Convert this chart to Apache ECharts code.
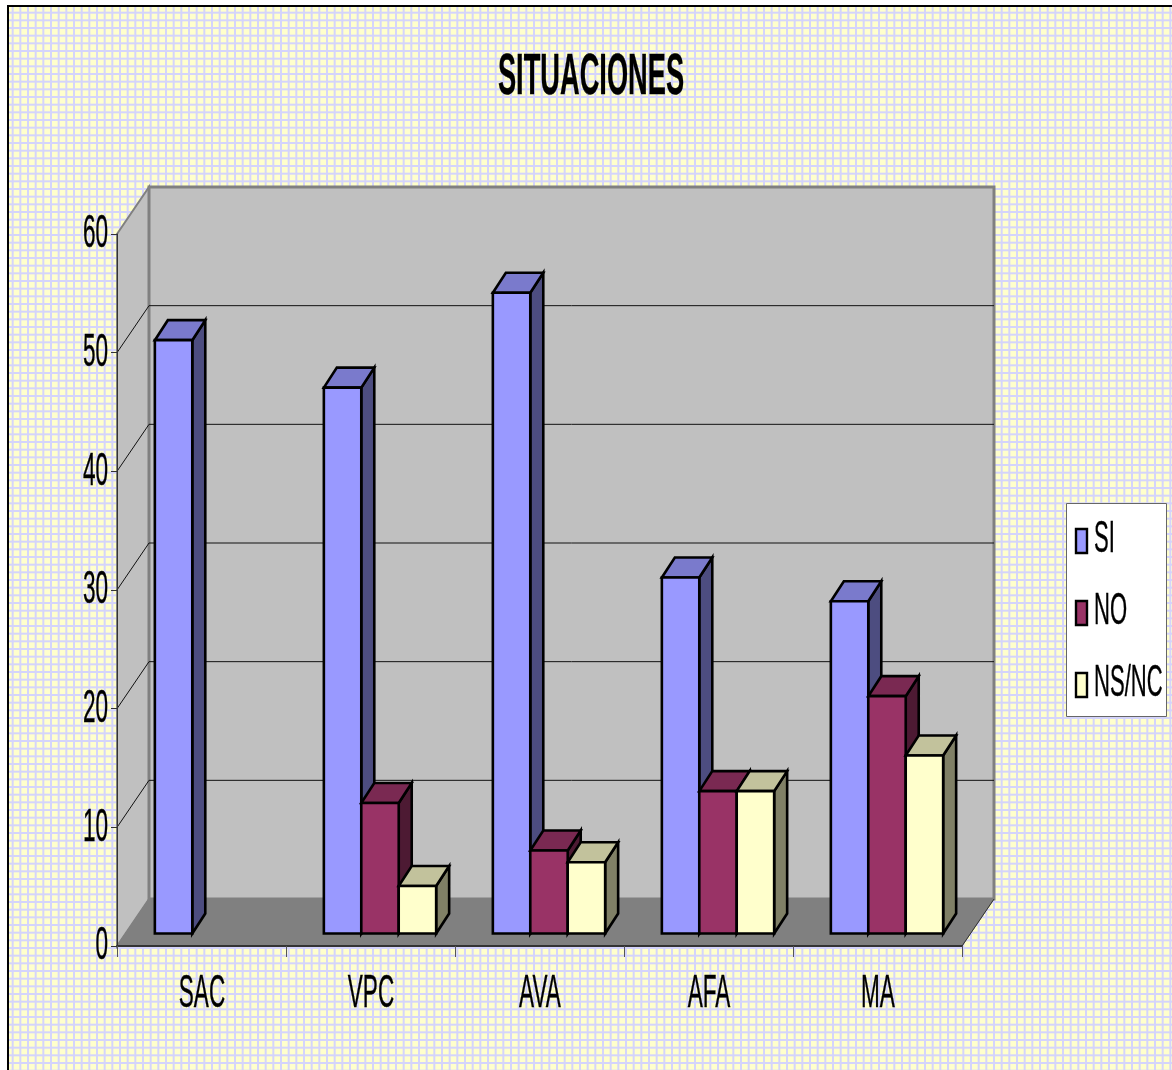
<!DOCTYPE html>
<html>
<head>
<meta charset="utf-8">
<title>SITUACIONES</title>
<style>
html, body { margin: 0; padding: 0; background: #fff; }
#chart { width: 1172px; height: 1070px; }
</style>
<script src="https://cdn.jsdelivr.net/npm/echarts@6/dist/echarts.min.js"></script>
</head>
<body>
<div id="chart"></div>
<script>
var titleText = 'SITUACIONES';
var categories = ['SAC', 'VPC', 'AVA', 'AFA', 'MA'];
var siValues = [50, 46, 54, 30, 28];
var noValues = [0, 11, 7, 12, 20];
var nsValues = [0, 4, 6, 12, 15];
var valueTicks = [0, 10, 20, 30, 40, 50, 60];
var wallLines = [10, 20, 30, 40, 50];
var seriesNames = ['SI', 'NO', 'NS/NC'];

// front, top, side colours of each bar series
var barColors = [
    ['#9999ff', '#7a7acc', '#4d4d80'],
    ['#993366', '#7a2952', '#4d1a33'],
    ['#ffffcc', '#c2c29c', '#808066']
];

var fontName = '"Liberation Sans", Arial, sans-serif';
var depthX = 32, depthY = 47;   // 3d box depth
var barDepthX = 13, barDepthY = 20;
var barShiftX = 9.5, barShiftY = 12.5;

// squared paper background
function makeTile() {
    var c = document.createElement('canvas');
    c.width = 23;
    c.height = 23;
    var ctx = c.getContext('2d');
    ctx.fillStyle = '#ffffcc';
    ctx.fillRect(0, 0, 23, 23);
    ctx.fillStyle = '#d4d4fb';
    for (var i = 0; i < 3; i++) {
        var p = 5 + i * 23 / 3;
        ctx.fillRect(p - 1, 0, 2, 23);
        ctx.fillRect(0, p - 1, 23, 2);
    }
    return c;
}

function narrowText(text, x, y, size, align, weight, scaleX) {
    return {
        type: 'text',
        x: x,
        y: y,
        scaleX: scaleX || 0.49,
        style: {
            text: text,
            fontFamily: fontName,
            fontSize: size,
            fontWeight: weight || 'normal',
            fill: '#000',
            stroke: '#000',
            lineWidth: 0.4,
            align: align,
            verticalAlign: 'middle'
        }
    };
}

function renderWalls(params, api) {
    var s = params.coordSys;
    var x0 = s.x, y0 = s.y, w = s.width, h = s.height;
    var wallStyle = { fill: '#c0c0c0', stroke: '#808080', lineWidth: 2 };
    return {
        type: 'group',
        children: [
            { type: 'polygon', shape: { points: [[x0, y0], [x0 + depthX, y0 - depthY], [x0 + depthX, y0 + h - depthY], [x0, y0 + h]] }, style: wallStyle },
            { type: 'polygon', shape: { points: [[x0 + depthX, y0 - depthY], [x0 + depthX + w, y0 - depthY], [x0 + depthX + w, y0 + h - depthY], [x0 + depthX, y0 + h - depthY]] }, style: { fill: '#c0c0c0', stroke: '#808080', lineWidth: 3 } },
            { type: 'polygon', shape: { points: [[x0, y0 + h], [x0 + depthX, y0 + h - depthY], [x0 + depthX + w, y0 + h - depthY], [x0 + w, y0 + h]] }, style: { fill: '#808080', stroke: '#808080', lineWidth: 1 } },
            { type: 'line', shape: { x1: x0 + w, y1: y0 + h, x2: x0 + w + depthX, y2: y0 + h - depthY }, style: { stroke: '#333', lineWidth: 1 } }
        ]
    };
}

function renderWallLine(params, api) {
    var s = params.coordSys;
    var y = api.coord([0, api.value(1)])[1];
    return {
        type: 'polyline',
        shape: { points: [[s.x, y], [s.x + depthX, y - depthY], [s.x + depthX + s.width, y - depthY]] },
        style: { fill: 'none', stroke: '#111', lineWidth: 1 }
    };
}

function barRenderer(index) {
    return function (params, api) {
        var v = api.value(1);
        if (!v) return;
        var base = api.coord([api.value(0), 0]);
        var top = api.coord([api.value(0), v]);
        var band = api.size([1, 0])[0];
        var bw = band * 0.2215;
        var x1 = base[0] - 1.5 * bw + barShiftX + index * bw;
        var x2 = x1 + bw;
        var y1 = top[1] - barShiftY;
        var y2 = base[1] - barShiftY;
        var c = barColors[index];
        var edge = { stroke: '#000', lineWidth: 2.6, lineJoin: 'miter' };
        return {
            type: 'group',
            children: [
                { type: 'polygon', shape: { points: [[x2, y1], [x2 + barDepthX, y1 - barDepthY], [x2 + barDepthX, y2 - barDepthY], [x2, y2]] }, style: Object.assign({ fill: c[2] }, edge) },
                { type: 'polygon', shape: { points: [[x1, y1], [x1 + barDepthX, y1 - barDepthY], [x2 + barDepthX, y1 - barDepthY], [x2, y1]] }, style: Object.assign({ fill: c[1] }, edge) },
                { type: 'rect', shape: { x: x1, y: y1, width: bw, height: y2 - y1 }, style: Object.assign({ fill: c[0] }, edge) }
            ]
        };
    };
}

function renderValueLabel(params, api) {
    var y = api.coord([0, api.value(1)])[1];
    return narrowText(String(api.value(1)), params.coordSys.x - 9, y + 0.5, 46, 'right');
}

function renderCategoryLabel(params, api) {
    var i = api.value(0);
    var p = api.coord([i, 0]);
    return narrowText(categories[i], p[0] + 0.5, p[1] + 48, 46, 'center');
}

function pairs(values) {
    return values.map(function (v, i) { return [i, v]; });
}

function customSeries(name, renderItem, data, z) {
    return {
        name: name,
        type: 'custom',
        renderItem: renderItem,
        data: data,
        encode: { x: 0, y: 1 },
        silent: true,
        z: z,
        animation: false
    };
}

var legendChildren = [
    { type: 'rect', shape: { x: 1066.5, y: 503.5, width: 100, height: 213 }, style: { fill: '#fff', stroke: '#666', lineWidth: 1 } }
];
seriesNames.forEach(function (name, i) {
    var cy = [541, 613, 685][i];
    legendChildren.push({ type: 'rect', shape: { x: 1076, y: cy - 12, width: 11, height: 24 }, style: { fill: barColors[i][0], stroke: '#000', lineWidth: 2.4 } });
    legendChildren.push(narrowText(name, 1094, cy - 1, 45, 'left'));
});

var myChart = echarts.init(document.getElementById('chart'), null, { renderer: 'canvas' });
var option = {
    backgroundColor: '#fff',
    animation: false,
    tooltip: { show: false },
    grid: { left: 117, top: 234, width: 845, height: 712 },
    xAxis: {
        type: 'category',
        data: categories,
        z: 6,
        axisLine: { lineStyle: { color: '#333', width: 2 } },
        axisTick: { show: true, length: 11, lineStyle: { color: '#555', width: 1 } },
        axisLabel: { show: false },
        splitLine: { show: false }
    },
    yAxis: {
        type: 'value',
        min: 0,
        max: 60,
        interval: 10,
        z: 6,
        axisLine: { show: true, lineStyle: { color: '#333', width: 1 } },
        axisTick: { show: true, length: 6, lineStyle: { color: '#333', width: 1 } },
        axisLabel: { show: false },
        splitLine: { show: false }
    },
    series: [
        customSeries('walls', renderWalls, [[0, 0]], 1),
        customSeries('wallLines', renderWallLine, wallLines.map(function (v) { return [0, v]; }), 2),
        customSeries(seriesNames[0], barRenderer(0), pairs(siValues), 3),
        customSeries(seriesNames[1], barRenderer(1), pairs(noValues), 4),
        customSeries(seriesNames[2], barRenderer(2), pairs(nsValues), 5),
        customSeries('valueLabels', renderValueLabel, valueTicks.map(function (v) { return [0, v]; }), 7),
        customSeries('categoryLabels', renderCategoryLabel, pairs(categories.map(function () { return 0; })), 7)
    ],
    graphic: [
        { type: 'rect', z: -10, shape: { x: 8, y: 6, width: 1170, height: 1070 }, style: { fill: { image: makeTile(), repeat: 'repeat' }, stroke: '#000', lineWidth: 2 } },
        Object.assign(narrowText(titleText, 591, 78, 57, 'center', 'bold', 0.478), { z: 10 }),
        { type: 'group', z: 10, children: legendChildren }
    ]
};
myChart.setOption(option);
</script>
</body>
</html>
